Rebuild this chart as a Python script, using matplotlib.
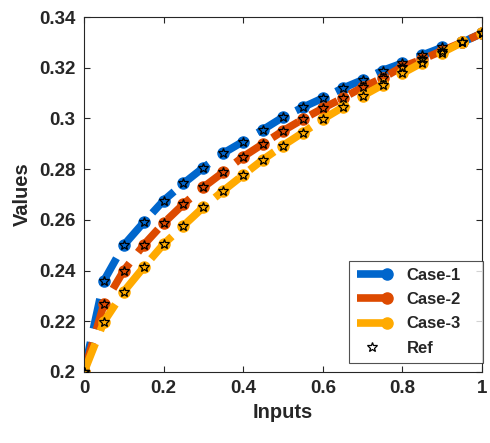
import matplotlib
matplotlib.use("Agg")
import matplotlib.pyplot as plt
from matplotlib.lines import Line2D
from matplotlib.legend_handler import HandlerBase

plt.rcParams['font.family'] = ['Liberation Sans', 'DejaVu Sans']

x = [0.0, 0.05, 0.1, 0.15, 0.2, 0.25, 0.3, 0.35, 0.4, 0.45, 0.5,
     0.55, 0.6, 0.65, 0.7, 0.75, 0.8, 0.85, 0.9, 0.95, 1.0]
case1 = [0.200, 0.236, 0.250, 0.259, 0.2676, 0.2744, 0.2806, 0.2863, 0.2909, 0.2956, 0.3005,
         0.3044, 0.3080, 0.3119, 0.3152, 0.3189, 0.3218, 0.3250, 0.3280, 0.3300, 0.3336]
case2 = [0.200, 0.2267, 0.2400, 0.2501, 0.2587, 0.2662, 0.2729, 0.2788, 0.2849, 0.2900, 0.2951,
         0.2997, 0.3040, 0.3080, 0.3123, 0.3159, 0.3204, 0.3233, 0.3267, 0.3300, 0.3336]
case3 = [0.200, 0.2198, 0.2317, 0.2413, 0.2504, 0.2577, 0.2650, 0.2715, 0.2777, 0.2838, 0.2893,
         0.2944, 0.2997, 0.3044, 0.3089, 0.3132, 0.3178, 0.3220, 0.3260, 0.3300, 0.3336]
labels = ['Case-1', 'Case-2', 'Case-3', 'Ref']
colors = ['#0066CC', '#DD4A00', '#FFAA00']
xticks = [0, 0.2, 0.4, 0.6, 0.8, 1]
yticks = [0.2, 0.22, 0.24, 0.26, 0.28, 0.3, 0.32, 0.34]
ytick_labels = ['0.2', '0.22', '0.24', '0.26', '0.28', '0.3', '0.32', '0.34']
xtick_labels = ['0', '0.2', '0.4', '0.6', '0.8', '1']

txt = '#262626'
fig = plt.figure(figsize=(4.9, 4.43), dpi=100)
ax = fig.add_axes([0.1714, 0.1603, 0.8123, 0.8013])

series = [case1, case2, case3]
handles = []
for ys, c, lab in zip(series, colors, labels[:3]):
    ln, = ax.plot(x, ys, color=c, lw=5.5, linestyle=(0, (4, 1.8)),
                  dash_capstyle='butt', marker='o', ms=8, mec=c, mfc=c,
                  label=lab, zorder=2)
    handles.append(ln)
for ys in series:
    ax.plot(x, ys, linestyle='none', marker='*', ms=7.5, mfc='none',
            mec='black', mew=0.9, zorder=4)
ref_handle = Line2D([], [], linestyle='none', marker='*', ms=7.5, mfc='none',
                    mec='black', mew=0.9)


class EndMarkerHandler(HandlerBase):
    def create_artists(self, legend, orig, xd, yd, w, h, fs, trans):
        y = h / 2 - yd
        l = Line2D([-xd, -xd + w], [y, y], color=orig.get_color(), lw=orig.get_linewidth(),
                   solid_capstyle='butt', transform=trans)
        m = Line2D([-xd + w], [y], marker='o', ms=8, color=orig.get_color(),
                   linestyle='none', transform=trans)
        return [l, m]


hmap = {h: EndMarkerHandler() for h in handles}
leg = ax.legend(handles + [ref_handle], labels, loc='lower left',
                bbox_to_anchor=(0.666, 0.025, 0.337, 0.2), mode='expand',
                handler_map=hmap,
                prop={'weight': 'bold', 'size': 12}, frameon=True, fancybox=False,
                edgecolor=txt, handlelength=1.8, handletextpad=1.2,
                labelspacing=0.55, borderpad=0.45, borderaxespad=0.0, labelcolor=txt)
leg.get_frame().set_linewidth(0.8)

ax.set_xlim(0, 1)
ax.set_ylim(0.2, 0.34)
ax.set_xticks(xticks)
ax.set_xticklabels(xtick_labels)
ax.set_yticks(yticks)
ax.set_yticklabels(ytick_labels)
ax.tick_params(direction='in', length=4, width=0.8, top=True, right=True,
               colors=txt, labelsize=13.5, pad=6)
for lab in ax.get_xticklabels() + ax.get_yticklabels():
    lab.set_fontweight('bold')
for s in ax.spines.values():
    s.set_color(txt)
    s.set_linewidth(0.8)
ax.set_xlabel('Inputs', fontsize=14.5, fontweight='bold', color=txt, labelpad=4)
ax.set_ylabel('Values', fontsize=14.5, fontweight='bold', color=txt, labelpad=5)

fig.savefig('out.png', dpi=100)
